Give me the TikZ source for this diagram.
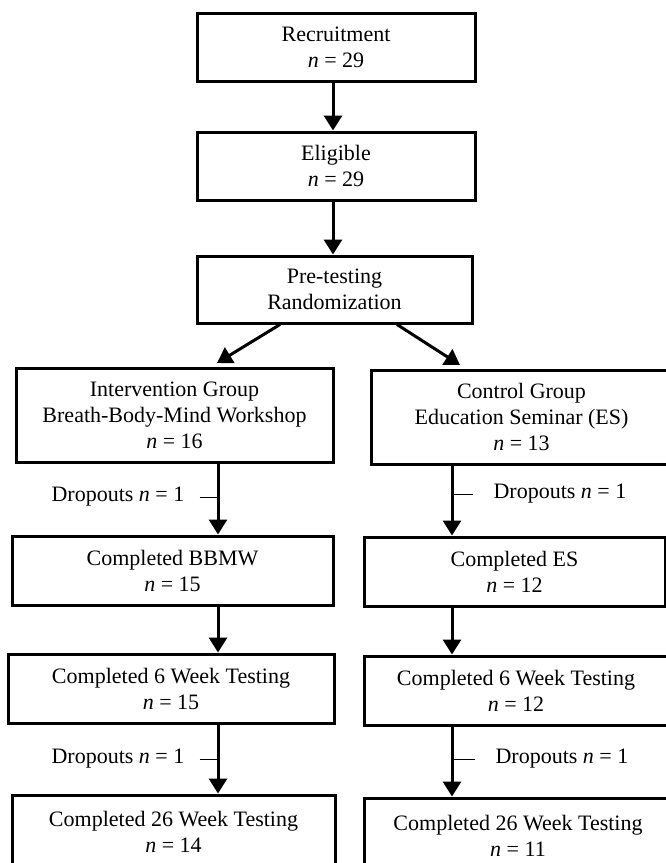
\documentclass[tikz,border=0pt]{standalone}
\usepackage{fontspec}
\setmainfont{Liberation Serif}
\usetikzlibrary{arrows.meta}
\begin{document}
\begin{tikzpicture}[x=1pt,y=1pt,
  box/.style={draw=black,line width=3pt,fill=white,align=center,inner sep=0pt,
    font=\fontsize{22}{26}\selectfont},
  lbl/.style={font=\fontsize{22}{26}\selectfont,inner sep=3pt},
  arr/.style={line width=3pt,-{Triangle[length=15pt,width=18pt]}},
  tick/.style={line width=1pt}]
\useasboundingbox (0,0) rectangle (666,-863);
\clip (0,0) rectangle (666,-863);
\fill[white] (0,0) rectangle (666,-863);
\coordinate (lx) at (218,0);
\coordinate (rx) at (452,0);
\coordinate (lt) at (217,-363);
\coordinate (rt) at (460,-365);
% boxes
\node[box,minimum width=278,minimum height=68] (rec) at (336,-47) {Recruitment\\{\itshape n} = 29};
\node[box,minimum width=278,minimum height=68] (eli) at (336,-166) {Eligible\\{\itshape n} = 29};
\node[box,minimum width=275,minimum height=67] (pre) at (334.5,-289.5) {Pre-testing\\Randomization};
\node[box,minimum width=317,minimum height=94] (int) at (174.5,-415) {Intervention Group\\Breath-Body-Mind Workshop\\{\itshape n} = 16};
\node[box,minimum width=301,minimum height=94] (con) at (521.5,-417) {Control Group\\Education Seminar (ES)\\{\itshape n} = 13};
\node[box,minimum width=321,minimum height=69] (cbb) at (172.5,-570.5) {Completed BBMW\\{\itshape n} = 15};
\node[box,minimum width=301,minimum height=69] (ces) at (514.5,-571.5) {Completed ES\\{\itshape n} = 12};
\node[box,minimum width=326,minimum height=69] (l6) at (171,-688.5) {Completed 6 Week Testing\\{\itshape n} = 15};
\node[box,minimum width=304,minimum height=69] (r6) at (516,-690.5) {Completed 6 Week Testing\\{\itshape n} = 12};
\node[box,minimum width=323,minimum height=74] (l26) at (173.5,-832) {Completed 26 Week Testing\\{\itshape n} = 14};
\node[box,minimum width=308,minimum height=75] (r26) at (518,-835.5) {Completed 26 Week Testing\\{\itshape n} = 11};
% dropout labels
\node[lbl] (d1) at (118,-497) {Dropouts {\itshape n} = 1};
\node[lbl] (d2) at (560,-494) {Dropouts {\itshape n} = 1};
\node[lbl] (d3) at (118,-759) {Dropouts {\itshape n} = 1};
\node[lbl] (d4) at (562,-759) {Dropouts {\itshape n} = 1};
% arrows
\draw[arr] ([xshift=-3pt]rec.south) -- ([xshift=-3pt]eli.north);
\draw[arr] ([xshift=-3pt]eli.south) -- ([xshift=-1.5pt]pre.north);
\draw[arr] ([xshift=-54.5pt]pre.south) -- (lt);
\draw[arr] ([xshift=62.5pt]pre.south) -- (rt);
\draw[arr] (int.south -| lx) -- (cbb.north -| lx);
\draw[arr] (cbb.south -| lx) -- (l6.north -| lx);
\draw[arr] (l6.south -| lx) -- (l26.north -| lx);
\draw[arr] (con.south -| rx) -- (ces.north -| rx);
\draw[arr] (ces.south -| rx) -- (r6.north -| rx);
\draw[arr] (r6.south -| rx) -- (r26.north -| rx);
% ticks
\draw[tick] ([xshift=12pt]d1.east) -- (d1.east -| lx);
\draw[tick] ([xshift=12pt]d3.east) -- (d3.east -| lx);
\draw[tick] (d2.west -| rx) -- ([xshift=-17pt]d2.west);
\draw[tick] (d4.west -| rx) -- ([xshift=-17pt]d4.west);
\end{tikzpicture}
\end{document}
